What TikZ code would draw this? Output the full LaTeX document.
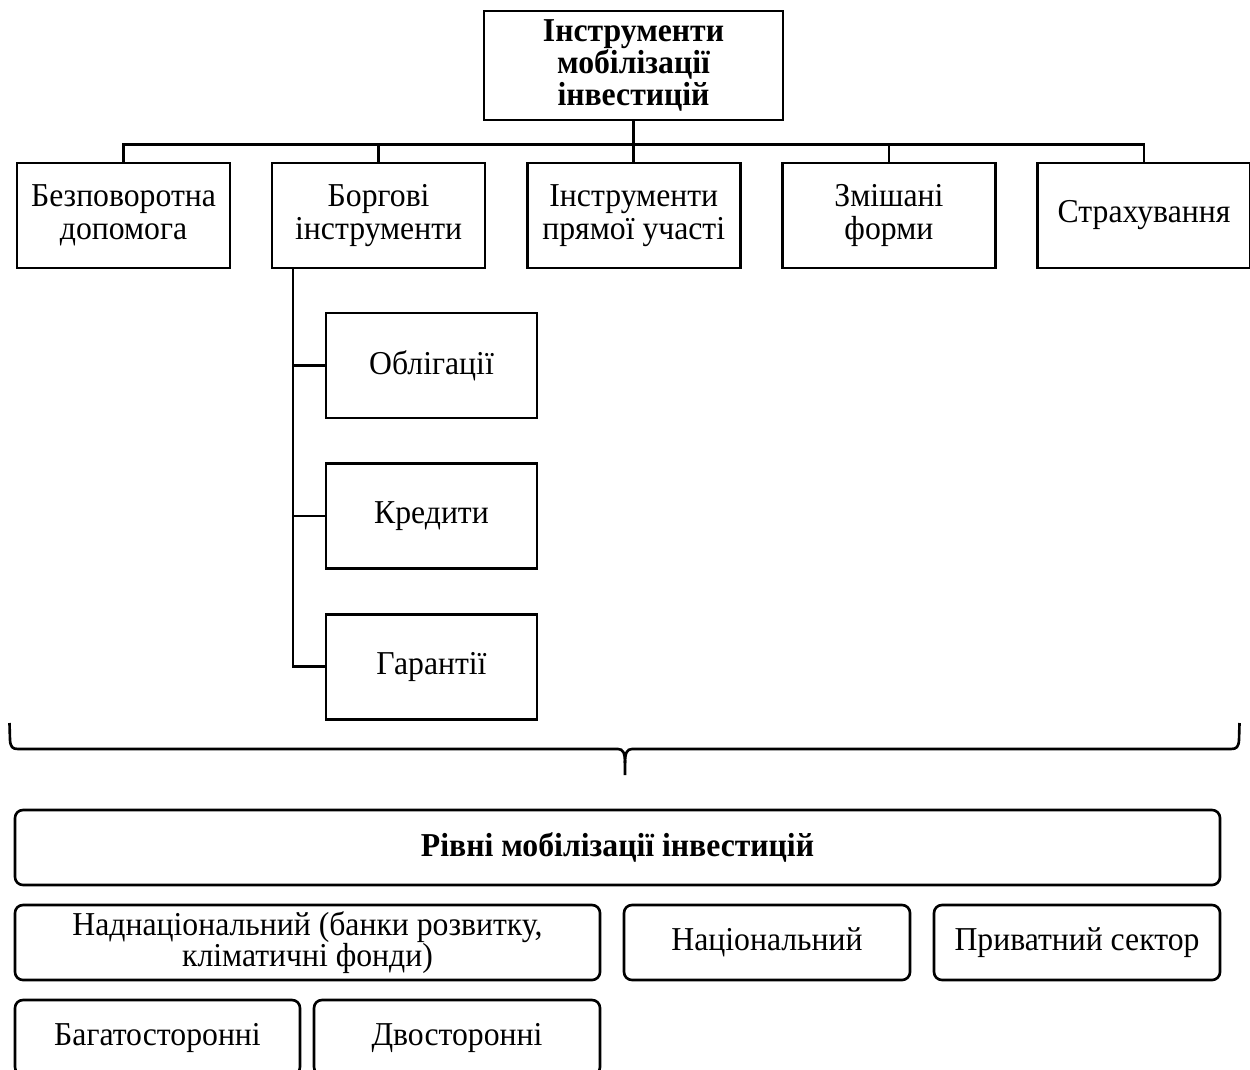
\documentclass[tikz,border=0pt]{standalone}
\usepackage{fontspec}
\setmainfont{Liberation Serif}[FakeStretch=0.95]
\usetikzlibrary{positioning}

\begin{document}
\begin{tikzpicture}[line width=1.5pt, node distance=0.79cm]
		  \tikzstyle{box}=[draw=black,text=black,minimum width=4.26cm,minimum height=2.1cm,
		                   align=center,inner sep=1pt,font=\fontsize{19}{18.6}\selectfont]
		  \tikzstyle{rbox}=[draw=black,text=black,rounded corners=0.16cm,minimum height=1.5cm,
		                    align=center,font=\fontsize{19}{18}\selectfont]

		  \useasboundingbox (0,0) rectangle (25,-21.4);

		  \node[box,minimum width=5.98cm,minimum height=2.18cm,
		        font=\fontsize{19}{18}\selectfont\bfseries] (I) at (12.67,-1.31) {Інструменти\\мобілізації\\інвестицій};

		  \node[box]          (B1) at (2.47,-4.31)    {Безповоротна\\допомога};
		  \node[box]          (B2) [right=of B1]      {Боргові\\інструменти};
		  \node[box]          (B3) [right=of B2]      {Інструменти\\прямої участі};
		  \node[box]          (B4) [right=of B3]      {Змішані\\форми};
		  \node[box]          (B5) [right=of B4]      {Страхування};

		  \node[box,minimum width=4.22cm] (S1) at (8.63,-7.31) {Облігації};
		  \node[box,minimum width=4.22cm] (S2) [below=0.86cm of S1] {Кредити};
		  \node[box,minimum width=4.22cm] (S3) [below=0.86cm of S2] {Гарантії};

		  % tree lines
		  \path (I.south) ++(0,-0.46) coordinate (J);
		  \draw (I.south) -- (J);
		  \draw (B1.north) |- (J) -| (B5.north);
		  \foreach \n in {B2,B3,B4}
		    \draw (\n.north) -- (\n.north |- J);

		  \coordinate (K) at ([xshift=0.44cm]B2.south west);
		  \draw (K) |- (S3.west);
		  \draw (S1.west) -- (S1.west -| K);
		  \draw (S2.west) -- (S2.west -| K);

		  % brace
		  \draw (0.19,-14.46) -- (0.2,-14.8) .. controls (0.21,-14.94) and (0.25,-14.98) .. (0.36,-14.98)
		    -- (12.36,-14.98) .. controls (12.46,-14.98) and (12.5,-15.06) .. (12.5,-15.26) -- (12.5,-15.5);
		  \draw (12.5,-15.26) .. controls (12.5,-15.06) and (12.54,-14.98) .. (12.64,-14.98)
		    -- (24.62,-14.98) .. controls (24.73,-14.98) and (24.77,-14.94) .. (24.78,-14.8) -- (24.79,-14.46);

		  \node[rbox,minimum width=24.1cm,font=\fontsize{19}{18}\selectfont\bfseries] (R) at (12.35,-16.95) {Рівні мобілізації інвестицій};
		  \node[rbox,minimum width=11.7cm]  (L1) at (6.15,-18.85)  {Наднаціональний (банки розвитку,\\кліматичні фонди)};
		  \node[rbox,minimum width=5.72cm]  (L2) at (15.34,-18.85) {Національний};
		  \node[rbox,minimum width=5.72cm]  (L3) at (21.54,-18.85) {Приватний сектор};
		  \node[rbox,minimum width=5.7cm]   (M1) at (3.15,-20.75)  {Багатосторонні};
		  \node[rbox,minimum width=5.72cm]  (M2) at (9.14,-20.75)  {Двосторонні};
		\end{tikzpicture}
\end{document}
